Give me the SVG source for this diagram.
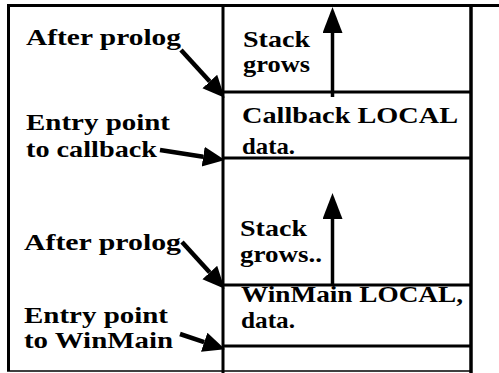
<svg xmlns="http://www.w3.org/2000/svg" width="499" height="373" viewBox="0 0 499 373">
<defs>
<style>
.t{font-family:"Liberation Serif","DejaVu Serif","Times New Roman",serif;font-weight:bold;font-size:24px;fill:#000;stroke:none}
.frame{stroke:#000;fill:none}
.conn{stroke:#000;stroke-width:4.5;fill:none}
.up{stroke:#000;stroke-width:3.5;fill:none}
</style>
<marker id="ah" markerUnits="userSpaceOnUse" markerWidth="24" markerHeight="22" refX="0" refY="10" orient="auto">
<path d="M0,0 L22,10 L0,20 z" fill="#000"/>
</marker>
<marker id="uh" markerUnits="userSpaceOnUse" markerWidth="28" markerHeight="22" refX="0" refY="10" orient="auto">
<path d="M0,0 L26,10 L0,20 z" fill="#000"/>
</marker>
</defs>
<rect width="499" height="373" fill="#fff"/>
<g id="frame" class="frame">
<line x1="7" y1="5.5" x2="499" y2="5.5" stroke-width="3"/>
<line x1="8.5" y1="4" x2="8.5" y2="371" stroke-width="3"/>
<line x1="7" y1="371" x2="470" y2="371" stroke-width="1.5"/>
<line x1="223" y1="4" x2="223" y2="373" stroke-width="3"/>
<line x1="471" y1="4" x2="471" y2="373" stroke-width="3.5"/>
</g>
<g id="stack-upper-free">
<line class="frame" x1="223" y1="92" x2="471" y2="92" stroke-width="3"/>
<text class="t" x="243" y="47" textLength="67" lengthAdjust="spacingAndGlyphs">Stack</text>
<text class="t" x="243" y="72" textLength="67" lengthAdjust="spacingAndGlyphs">grows</text>
</g>
<g id="callback-local">
<line class="frame" x1="223" y1="158" x2="471" y2="158" stroke-width="3"/>
<text class="t" x="242" y="123" textLength="216" lengthAdjust="spacingAndGlyphs">Callback LOCAL</text>
<text class="t" x="242" y="154" textLength="53" lengthAdjust="spacingAndGlyphs">data.</text>
</g>
<g id="stack-lower-free">
<line class="frame" x1="223" y1="285" x2="471" y2="285" stroke-width="3"/>
<text class="t" x="240" y="236" textLength="67" lengthAdjust="spacingAndGlyphs">Stack</text>
<text class="t" x="240" y="262" textLength="82" lengthAdjust="spacingAndGlyphs">grows..</text>
</g>
<g id="winmain-local">
<line class="frame" x1="223" y1="346" x2="471" y2="346" stroke-width="3"/>
<text class="t" x="241" y="302" textLength="222" lengthAdjust="spacingAndGlyphs">WinMain LOCAL,</text>
<text class="t" x="241" y="328" textLength="54" lengthAdjust="spacingAndGlyphs">data.</text>
</g>
<g id="label-after-prolog-1">
<text class="t" x="26" y="45" textLength="155" lengthAdjust="spacingAndGlyphs">After prolog</text>
</g>
<g id="label-entry-callback">
<text class="t" x="26" y="130" textLength="144" lengthAdjust="spacingAndGlyphs">Entry point</text>
<text class="t" x="26" y="157" textLength="131" lengthAdjust="spacingAndGlyphs">to callback</text>
</g>
<g id="label-after-prolog-2">
<text class="t" x="24" y="250" textLength="157" lengthAdjust="spacingAndGlyphs">After prolog</text>
</g>
<g id="label-entry-winmain">
<text class="t" x="24" y="323" textLength="144" lengthAdjust="spacingAndGlyphs">Entry point</text>
<text class="t" x="24" y="348" textLength="149" lengthAdjust="spacingAndGlyphs">to WinMain</text>
</g>
<g id="connectors">
<line class="conn" x1="181" y1="50" x2="209.8" y2="81.5" marker-end="url(#ah)"/>
<line class="conn" x1="160" y1="150" x2="203.2" y2="156.7" marker-end="url(#ah)"/>
<line class="conn" x1="182" y1="242" x2="209.8" y2="272.5" marker-end="url(#ah)"/>
<line class="conn" x1="180" y1="334" x2="204.2" y2="342.2" marker-end="url(#ah)"/>
<line class="up" x1="332.5" y1="97" x2="332.5" y2="33" marker-end="url(#uh)"/>
<line class="up" x1="332.5" y1="285" x2="332.5" y2="219" marker-end="url(#uh)"/>
</g>
</svg>
